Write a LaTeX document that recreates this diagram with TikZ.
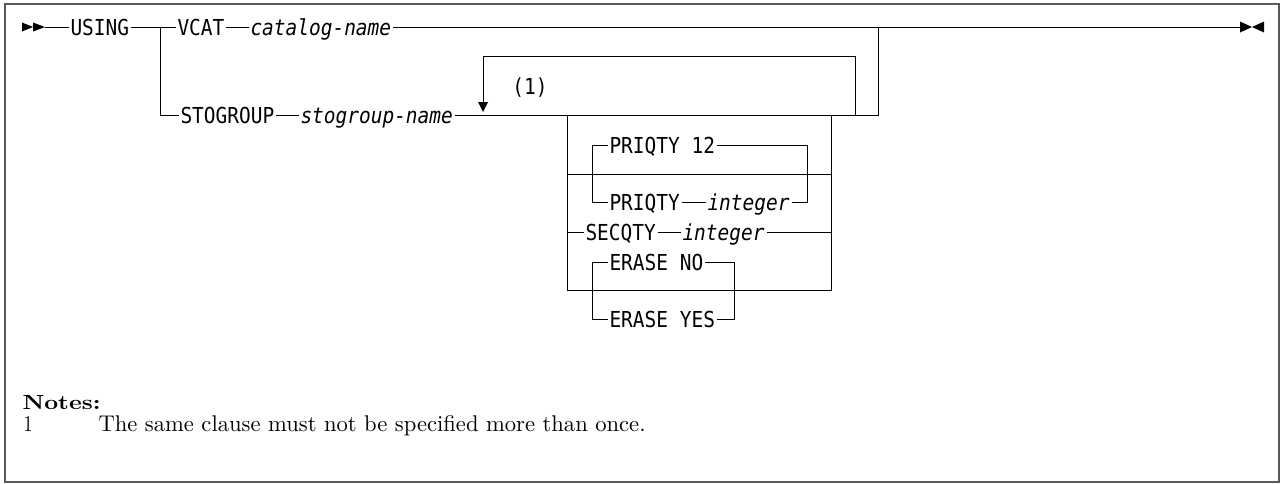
\documentclass[tikz,border=0pt]{standalone}
\usepackage{fontspec}
\usepackage{graphicx}
\newfontfamily\synfont[FakeStretch=0.885,ItalicFont={DejaVu Sans Mono Oblique}]{DejaVu Sans Mono}
\begin{document}
\begin{tikzpicture}[x=1pt,y=-1pt,line width=1pt,
  syn/.style={font=\synfont\fontsize{22}{26}\selectfont, inner xsep=1.5pt, inner ysep=0pt,
              text height=16pt, text depth=0pt, anchor=west},
  note/.style={inner sep=0pt, anchor=base west},
  frame/.style={draw=black!65, line width=1.2pt}]
\useasboundingbox (0,0) rectangle (1280,483);
\draw[frame] (5,4) rectangle (1279,482);

% start and end marks
\coordinate (st) at (45,27);
\fill (22,22.5) -- (33,27) -- (22,31.5) -- cycle;
\fill (33,22.5) -- (45,27) -- (33,31.5) -- cycle;
\coordinate (en) at (1240,27);
\fill (1240,21.5) -- (1252,27) -- (1240,32.5) -- cycle;
\fill (1264,21.5) -- (1252,27) -- (1264,32.5) -- cycle;

% main line
\node[syn] (using) at (68.5,27) {USING};
\coordinate (j1) at (160,27);
\node[syn] (vcat) at (175.5,27) {VCAT};
\node[syn] (catn) at (248.5,27) {\itshape catalog-name};
\coordinate (j2) at (878,27);
\draw (st) -- (using.west) (using.east) -- (vcat.west) (vcat.east) -- (catn.west) (catn.east) -- (en);

% stogroup line
\coordinate (c1) at (160,115);
\node[syn] (stog) at (178.5,115) {STOGROUP};
\node[syn] (stogn) at (298.5,115) {\itshape stogroup-name};
\coordinate (j3) at (878,115);
\draw (j1) -- (c1) -- (stog.west) (stog.east) -- (stogn.west) (stogn.east) -- (j3) -- (j2);

% repeat loop
\coordinate (lr) at (855,115);
\coordinate (lrt) at (855,56);
\coordinate (llt) at (483,56);
\coordinate (la) at (483,103);
\draw (lr) -- (lrt) -- (llt) -- (la);
\fill (478,102) -- (488,102) -- (483,112) -- cycle;
\node[syn, anchor=center] (n1) at (530,86) {(1)};

% fragment box
\coordinate (bl) at (567,115);
\coordinate (br) at (831,115);
\coordinate (bl2) at (567,290);
\coordinate (br2) at (831,290);
\coordinate (m1) at (567,174);
\coordinate (m2) at (831,174);
\draw (bl) -- (bl2) -- (br2) -- (br);
\draw (m1) -- (m2);

% PRIQTY
\coordinate (p1) at (592,145);
\coordinate (p2) at (592,202);
\coordinate (p3) at (807,145);
\coordinate (p4) at (807,202);
\node[syn] (pq12) at (607.5,145) {PRIQTY 12};
\node[syn] (pq) at (607.5,202) {PRIQTY};
\node[syn] (pqi) at (705.5,202) {\itshape integer};
\draw (pq12.west) -- (p1) -- (p2) -- (pq.west);
\draw (pq12.east) -- (p3) -- (p4) -- (pqi.east);
\draw (pq.east) -- (pqi.west);

% SECQTY
\coordinate (s1) at (567,232);
\coordinate (s2) at (831,232);
\node[syn] (sq) at (583.5,232) {SECQTY};
\node[syn] (sqi) at (680.5,232) {\itshape integer};
\draw (s1) -- (sq.west) (sq.east) -- (sqi.west) (sqi.east) -- (s2);

% ERASE
\coordinate (e1) at (592,262);
\coordinate (e2) at (592,319);
\coordinate (e3) at (734,262);
\coordinate (e4) at (734,319);
\node[syn] (eno) at (607.5,262) {ERASE NO};
\node[syn] (eyes) at (607.5,319) {ERASE YES};
\draw (eno.west) -- (e1) -- (e2) -- (eyes.west);
\draw (eno.east) -- (e3) -- (e4) -- (eyes.east);

% notes
\node[note] (notes) at (22,409) {\resizebox{78pt}{14pt}{\bfseries Notes:}};
\node[note] (num) at (23,431) {\resizebox{9pt}{15pt}{1}};
\node[note] (txt) at (98,431) {\resizebox{547pt}{16pt}{The same clause must not be specified more than once.}};
\end{tikzpicture}
\end{document}
